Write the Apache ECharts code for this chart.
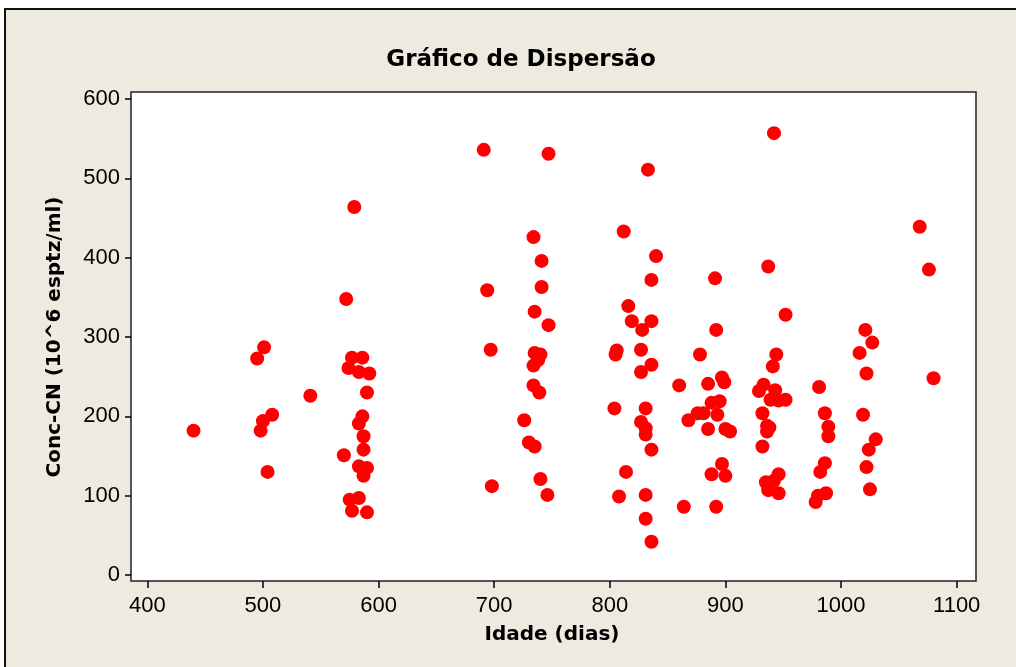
<!DOCTYPE html>
<html>
<head>
<meta charset="utf-8">
<script src="https://cdn.jsdelivr.net/npm/echarts@6/dist/echarts.min.js"></script>
<style>
  html, body { margin: 0; padding: 0; background: #ffffff; overflow: hidden; }
  #frame { position: absolute; left: 4px; top: 8px; width: 1100px; height: 800px;
           background: #EEEAE0; border: 2px solid #111; }
  #chart { position: absolute; left: 0; top: 0; width: 1016px; height: 667px; }
</style>
</head>
<body>
<div id="frame"></div>
<div id="chart"></div>
<script>
// Idade (dias)
const idade = [
  440, 495, 501, 498, 500, 508, 504, 541,
  579, 572, 577, 586, 574, 583, 592, 590, 586, 583, 587, 587, 570, 583, 590, 587, 575, 583, 577, 590,
  691, 694, 697, 698, 747, 734, 741, 741, 735, 747, 735, 740, 738, 734, 734, 739, 726, 730, 735, 740, 746,
  833, 812, 840, 836, 816, 819, 836, 828, 806, 805, 827, 836, 827, 860, 804, 831, 827, 831, 831, 836, 814, 808, 831, 864, 831, 836,
  868, 876, 881, 891, 892, 878, 897, 899, 885, 895, 888, 893, 885, 900, 904, 897, 888, 900, 892,
  942, 937, 952, 944, 941, 933, 929, 943, 939, 946, 952, 932, 936, 938, 936, 932, 946, 935, 942, 937, 946,
  981, 986, 989, 989, 986, 982, 987, 980, 978,
  1021, 1027, 1016, 1022, 1019, 1030, 1024, 1022, 1025,
  1068, 1076, 1080
];
// Conc-CN (10^6 esptz/ml)
const concCN = [
  182, 273, 287, 182, 194, 202, 130, 226,
  464, 348, 274, 274, 261, 256, 254, 230, 200, 191, 175, 158, 151, 137, 135, 125, 95, 97, 81, 79,
  536, 359, 284, 112, 531, 426, 396, 363, 332, 315, 280, 278, 271, 264, 239, 230, 195, 167, 162, 121, 101,
  511, 433, 402, 372, 339, 320, 320, 309, 283, 278, 284, 265, 256, 239, 210, 210, 193, 185, 177, 158, 130, 99, 101, 86, 71, 42,
  195, 204, 204, 374, 309, 278, 249, 243, 241, 219, 217, 202, 184, 184, 181, 140, 127, 125, 86,
  557, 389, 328, 278, 263, 240, 232, 233, 221, 220, 221, 204, 188, 186, 181, 162, 127, 117, 119, 107, 103,
  237, 204, 187, 175, 141, 130, 103, 100, 92,
  309, 293, 280, 254, 202, 171, 158, 136, 108,
  439, 385, 248
];
const xTicks = [400, 1100, 100];   // min, max, step of the x tick labels
const yTicks = [0, 600, 100];      // min, max, step of the y tick labels

const points = idade.map((x, i) => [x, concCN[i]]);

const tickFont = { fontFamily: 'Liberation Sans', fontSize: 22, color: '#000', formatter: v => String(v) };
const nameFont = { fontFamily: 'DejaVu Sans', fontWeight: 'bold', fontSize: 20, color: '#000' };

const chart = echarts.init(document.getElementById('chart'), null, { renderer: 'canvas' });
chart.setOption({
  backgroundColor: 'transparent',
  animation: false,
  title: {
    text: 'Gráfico de Dispersão',
    left: 516, top: 44, textAlign: 'center',
    textStyle: { fontFamily: 'DejaVu Sans', fontWeight: 'bold', fontSize: 23, color: '#000' }
  },
  grid: [
    { left: 131, top: 92, width: 845, height: 489, show: true, backgroundColor: '#fff',
      borderColor: '#222', borderWidth: 1.5, containLabel: false },
    { left: 131, top: 99, width: 845, height: 476, containLabel: false },
    { left: 147.3, top: 92, width: 809.4, height: 489, containLabel: false }
  ],
  xAxis: [
    { gridIndex: 0, type: 'value', min: 385.9, max: 1116.7, show: false },
    { gridIndex: 1, type: 'value', min: 0, max: 1, show: false },
    { gridIndex: 2, type: 'value', min: xTicks[0], max: xTicks[1], interval: xTicks[2], position: 'bottom',
      axisLine: { show: false }, splitLine: { show: false },
      axisTick: { show: true, inside: false, length: 7, lineStyle: { color: '#000', width: 1.5 } },
      axisLabel: Object.assign({ margin: 14 }, tickFont),
      name: 'Idade (dias)', nameLocation: 'middle', nameGap: 44, nameTextStyle: nameFont }
  ],
  yAxis: [
    { gridIndex: 0, type: 'value', min: -7.56, max: 608.9, show: false },
    { gridIndex: 1, type: 'value', min: yTicks[0], max: yTicks[1], interval: yTicks[2], position: 'left',
      axisLine: { show: false }, splitLine: { show: false },
      axisTick: { show: true, inside: false, length: 6, lineStyle: { color: '#000', width: 1.5 } },
      axisLabel: Object.assign({ margin: 11 }, tickFont),
      name: 'Conc-CN (10^6 esptz/ml)', nameLocation: 'middle', nameGap: 66, nameRotate: 90,
      nameTextStyle: nameFont },
    { gridIndex: 2, type: 'value', min: 0, max: 1, show: false }
  ],
  series: [{
    type: 'scatter',
    xAxisIndex: 0, yAxisIndex: 0,
    data: points,
    symbol: 'circle',
    symbolSize: 14,
    itemStyle: { color: '#FF0000', opacity: 1 },
    emphasis: { disabled: true }
  }]
});
</script>
</body>
</html>
